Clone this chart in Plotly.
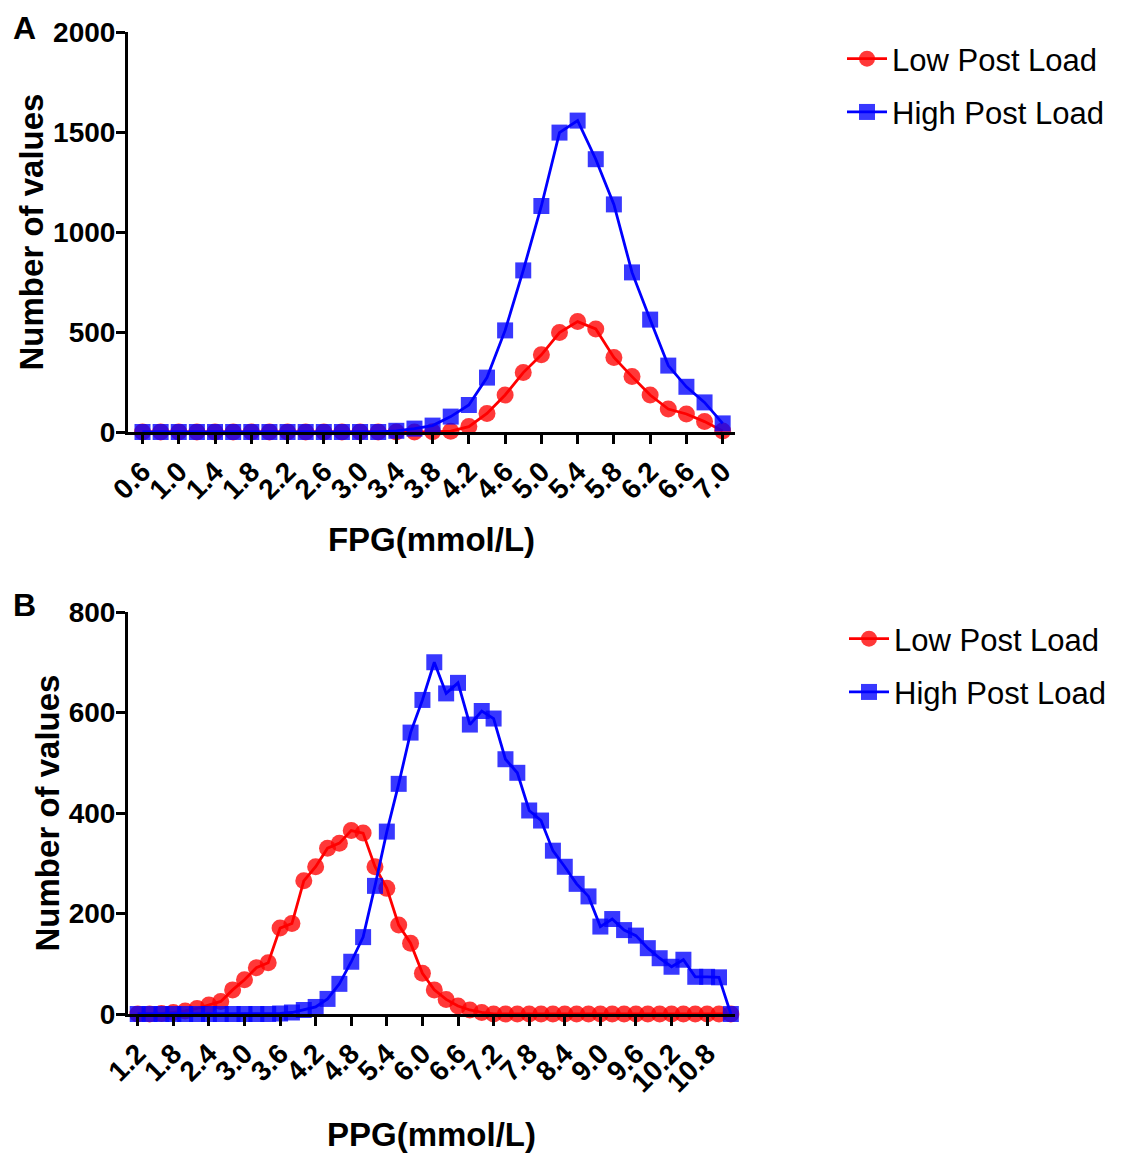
import plotly.graph_objects as go

# ---------------- Data ----------------
fpg_x = [0.6, 0.8, 1.0, 1.2, 1.4, 1.6, 1.8, 2.0, 2.2, 2.4, 2.6, 2.8, 3.0, 3.2, 3.4,
         3.6, 3.8, 4.0, 4.2, 4.4, 4.6, 4.8, 5.0, 5.2, 5.4, 5.6, 5.8, 6.0, 6.2, 6.4,
         6.6, 6.8, 7.0]
fpg_low = [0, 0, 0, 0, 0, 0, 0, 0, 0, 0, 0, 0, 0, 0, 0,
           0, 1, 4, 27, 93, 185, 297, 386, 497, 552, 515, 373, 277, 185, 115,
           90, 52, 5]
fpg_high = [0, 0, 0, 0, 0, 0, 0, 0, 0, 0, 0, 0, 0, 0, 6,
            17, 32, 77, 135, 272, 508, 808, 1130, 1497, 1557, 1364, 1138, 798, 562, 332,
            226, 148, 43]
fpg_ticks = [0.6, 1.0, 1.4, 1.8, 2.2, 2.6, 3.0, 3.4, 3.8, 4.2, 4.6, 5.0, 5.4, 5.8, 6.2, 6.6, 7.0]
fpg_tick_labels = ["0.6", "1.0", "1.4", "1.8", "2.2", "2.6", "3.0", "3.4", "3.8", "4.2",
                   "4.6", "5.0", "5.4", "5.8", "6.2", "6.6", "7.0"]
fpg_yticks = [0, 500, 1000, 1500, 2000]

ppg_x = [1.2, 1.4, 1.6, 1.8, 2.0, 2.2, 2.4, 2.6, 2.8, 3.0, 3.2, 3.4, 3.6, 3.8, 4.0,
         4.2, 4.4, 4.6, 4.8, 5.0, 5.2, 5.4, 5.6, 5.8, 6.0, 6.2, 6.4, 6.6, 6.8, 7.0,
         7.2, 7.4, 7.6, 7.8, 8.0, 8.2, 8.4, 8.6, 8.8, 9.0, 9.2, 9.4, 9.6, 9.8, 10.0,
         10.2, 10.4, 10.6, 10.8, 11.0, 11.2]
ppg_low = [0, 0, 1, 3, 6, 11, 18, 25, 48, 68, 92, 102, 171, 180, 265,
           293, 330, 340, 365, 360, 293, 250, 177, 141, 81, 48, 29, 16, 8, 3,
           0, 0, 0, 0, 0, 0, 0, 0, 0, 0, 0, 0, 0, 0, 0,
           0, 0, 0, 0, 0, 0]
ppg_high = [0, 0, 0, 0, 0, 0, 0, 0, 0, 0, 0, 0, 1, 3, 8,
            14, 30, 60, 104, 153, 255, 363, 458, 560, 625, 700, 638, 659, 576, 603,
            588, 507, 480, 405, 385, 325, 293, 259, 234, 174, 189, 167, 156, 131, 111,
            94, 108, 74, 74, 73, 0]
ppg_ticks = [1.2, 1.8, 2.4, 3.0, 3.6, 4.2, 4.8, 5.4, 6.0, 6.6, 7.2, 7.8, 8.4, 9.0, 9.6, 10.2, 10.8]
ppg_tick_labels = ["1.2", "1.8", "2.4", "3.0", "3.6", "4.2", "4.8", "5.4", "6.0", "6.6",
                   "7.2", "7.8", "8.4", "9.0", "9.6", "10.2", "10.8"]
ppg_yticks = [0, 200, 400, 600, 800]

series_names = ["Low Post Load", "High Post Load"]
RED = "#ff0000"
BLUE = "#0000ff"

# ---------------- Figure ----------------
W, H = 1123, 1154
OFF = 8  # page body margin
FONT = "Arial, Liberation Sans, sans-serif"

def px_x(p):
    return (p - OFF) / W

def px_y(p):
    return 1 - (p - OFF) / H

fig = go.Figure()

def add_pair(x, low, high, xa, ya, leg):
    fig.add_trace(go.Scatter(
        x=x, y=low, name=series_names[0], mode="lines+markers",
        line=dict(color=RED, width=2.8),
        marker=dict(symbol="circle", size=17, color=RED, opacity=0.78),
        xaxis=xa, yaxis=ya, legend=leg, legendgroup=leg + "a", cliponaxis=False))
    fig.add_trace(go.Scatter(
        x=x, y=high, name=series_names[1], mode="lines+markers",
        line=dict(color=BLUE, width=2.8),
        marker=dict(symbol="square", size=16, color=BLUE, opacity=0.78),
        xaxis=xa, yaxis=ya, legend=leg, legendgroup=leg + "b", cliponaxis=False))

add_pair(fpg_x, fpg_low, fpg_high, "x", "y", "legend")
add_pair(ppg_x, ppg_low, ppg_high, "x2", "y2", "legend2")

axis_common = dict(
    showline=True, linecolor="black", linewidth=3, mirror=False,
    ticks="outside", ticklen=9, tickwidth=3, tickcolor="black",
    showgrid=False, zeroline=False, automargin=False,
    tickfont=dict(family=FONT, size=28, color="black", weight="bold"),
)
title_font = dict(family=FONT, size=33, color="black", weight="bold")

xdom = [px_x(128), px_x(735)]

fig.update_layout(
    width=W, height=H,
    margin=dict(l=0, r=0, t=0, b=0, autoexpand=False),
    paper_bgcolor="white", plot_bgcolor="white",
    showlegend=True,
    xaxis=dict(**axis_common, domain=xdom, anchor="y", range=[0.44, 7.136],
               tickmode="array", tickvals=fpg_ticks, ticktext=fpg_tick_labels,
               tickangle=-45,
               title=dict(text="FPG(mmol/L)", font=title_font, standoff=24)),
    yaxis=dict(**axis_common, domain=[px_y(432), px_y(32)], anchor="x", range=[0, 2000],
               tickmode="array", tickvals=fpg_yticks, ticklabelstandoff=-5,
               title=dict(text="Number of values", font=title_font, standoff=0)),
    xaxis2=dict(**axis_common, domain=xdom, anchor="y2", range=[1.036, 11.27],
                tickmode="array", tickvals=ppg_ticks, ticktext=ppg_tick_labels,
                tickangle=-45,
                title=dict(text="PPG(mmol/L)", font=title_font, standoff=26)),
    yaxis2=dict(**axis_common, domain=[px_y(1014), px_y(612)], anchor="x2", range=[0, 800],
                tickmode="array", tickvals=ppg_yticks, ticklabelstandoff=-5,
                title=dict(text="Number of values", font=title_font, standoff=0)),
    legend=dict(x=px_x(842), y=px_y(32), xanchor="left", yanchor="top",
                font=dict(family=FONT, size=31, color="black"),
                bgcolor="rgba(0,0,0,0)", tracegroupgap=10, itemwidth=40),
    legend2=dict(x=px_x(844), y=px_y(612), xanchor="left", yanchor="top",
                 font=dict(family=FONT, size=31, color="black"),
                 bgcolor="rgba(0,0,0,0)", tracegroupgap=10, itemwidth=40),
    annotations=[
        dict(text="A", x=px_x(11), y=px_y(28), xref="paper", yref="paper",
             xanchor="left", yanchor="middle", showarrow=False,
             font=dict(family=FONT, size=32, color="black", weight="bold")),
        dict(text="B", x=px_x(11), y=px_y(605), xref="paper", yref="paper",
             xanchor="left", yanchor="middle", showarrow=False,
             font=dict(family=FONT, size=32, color="black", weight="bold")),
    ],
)

fig.write_html("out.html")
